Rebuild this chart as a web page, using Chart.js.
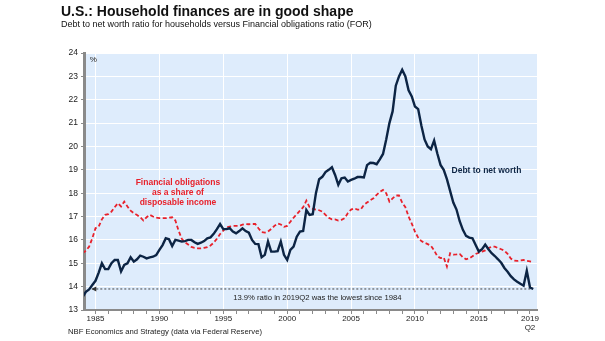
<!DOCTYPE html>
<html lang="en">
<head>
    <meta charset="UTF-8">
    <title>U.S.: Household finances are in good shape</title>
    <style>
        body {
            margin: 0;
            background: #ffffff;
            font-family: "Liberation Sans", Arial, sans-serif;
        }

        .wrap {
            position: relative;
            width: 605px;
            height: 341px;
        }

        .wrap div {
            position: absolute;
            line-height: 1;
            white-space: nowrap;
            color: #111;
        }

        .title {
            left: 61px;
            top: 4px;
            font-size: 14px;
            font-weight: bold;
        }

        .subtitle {
            left: 61px;
            top: 20px;
            font-size: 9px;
        }

        .source {
            left: 68px;
            top: 328px;
            font-size: 7.7px;
            color: #222 !important;
        }
    </style>
    <script src="https://cdn.jsdelivr.net/npm/chart.js"></script>
</head>
<body>
    <div class="wrap">
        <canvas id="chart" width="605" height="341"></canvas>
        <div class="title">U.S.: Household finances are in good shape</div>
        <div class="subtitle">Debt to net worth ratio for households versus Financial obligations ratio (FOR)</div>
        <div class="source">NBF Economics and Strategy (data via Federal Reserve)</div>
    </div>
    <script>
        // Quarterly series, first quarter is 1984Q1, last is 2019Q2
        const firstYear = 1984;

        const debtToNetWorth = [
            13.57, 13.78, 13.88, 14.07, 14.25, 14.6, 15.0, 14.75,
            14.75, 15.0, 15.14, 15.14, 14.65, 14.93, 15.0, 15.26,
            15.07, 15.17, 15.33, 15.28, 15.21, 15.25, 15.28, 15.35,
            15.57, 15.78, 16.07, 16.03, 15.74, 16.0, 15.97, 15.93,
            15.95, 16.0, 16.0, 15.9, 15.83, 15.88, 15.95, 16.07,
            16.11, 16.26, 16.46, 16.68, 16.46, 16.46, 16.5, 16.36,
            16.28, 16.38, 16.5, 16.38, 16.31, 16.0, 15.83, 15.82,
            15.26, 15.36, 15.93, 15.5, 15.5, 15.52, 15.93, 15.36,
            15.14, 15.57, 15.71, 16.14, 16.36, 16.38, 17.28, 17.07,
            17.1, 18.0, 18.6, 18.7, 18.9, 19.0, 19.11, 18.78,
            18.36, 18.64, 18.67, 18.5, 18.57, 18.62, 18.69, 18.69,
            18.67, 19.2, 19.3, 19.29, 19.24, 19.45, 19.68, 20.3,
            21.0, 21.5, 22.6, 23.0, 23.28, 23.0, 22.4, 22.14,
            21.71, 21.6, 20.9, 20.3, 20.0, 19.88, 20.25, 19.7,
            19.21, 19.0, 18.6, 18.1, 17.6, 17.3, 16.8, 16.43,
            16.17, 16.1, 16.07, 15.78, 15.5, 15.6, 15.8, 15.6,
            15.43, 15.31, 15.17, 15.02, 14.8, 14.64, 14.45, 14.31,
            14.21, 14.12, 14.04, 14.68, 13.97, 13.9
        ];

        const obligationsRatio = [
            15.43, 15.54, 15.71, 16.07, 16.5, 16.57, 16.88, 17.07,
            17.1, 17.21, 17.4, 17.57, 17.43, 17.64, 17.43, 17.25,
            17.14, 17.07, 16.97, 16.83, 16.97, 17.07, 17.0, 16.95,
            16.93, 16.93, 16.93, 16.95, 16.97, 16.83, 16.4, 16.05,
            15.9, 15.8, 15.7, 15.66, 15.64, 15.64, 15.66, 15.69,
            15.76, 15.88, 16.05, 16.25, 16.4, 16.54, 16.57, 16.6,
            16.6, 16.6, 16.65, 16.68, 16.67, 16.68, 16.68, 16.5,
            16.33, 16.31, 16.36, 16.47, 16.6, 16.7, 16.66, 16.56,
            16.6, 16.78, 16.95, 17.1, 17.25, 17.4, 17.68, 17.4,
            17.33, 17.3, 17.27, 17.21, 17.07, 16.95, 16.88, 16.88,
            16.83, 16.86, 16.93, 17.15, 17.3, 17.35, 17.3, 17.3,
            17.5, 17.6, 17.7, 17.78, 17.93, 18.05, 18.14, 18.0,
            17.64, 17.78, 17.9, 17.9, 17.6, 17.4, 17.0, 16.7,
            16.35, 16.1, 15.95, 15.88, 15.82, 15.75, 15.55, 15.3,
            15.22, 15.25, 14.86, 15.43, 15.37, 15.38, 15.4, 15.26,
            15.17, 15.21, 15.3, 15.4, 15.45, 15.5, 15.55, 15.65,
            15.71, 15.71, 15.65, 15.6, 15.54, 15.4, 15.2, 15.12,
            15.1, 15.12, 15.14, 15.1, 15.08, 15.06
        ];

        // Axis ticks
        const yTicks = [13, 14, 15, 16, 17, 18, 19, 20, 21, 22, 23, 24];
        const xTickYears = [1985, 1986, 1987, 1988, 1989, 1990, 1991, 1992, 1993, 1994,
            1995, 1996, 1997, 1998, 1999, 2000, 2001, 2002, 2003, 2004, 2005, 2006,
            2007, 2008, 2009, 2010, 2011, 2012, 2013, 2014, 2015, 2016, 2017, 2018, 2019];
        const xLabelYears = [1985, 1990, 1995, 2000, 2005, 2010, 2015];
        const lastLabel = ['2019', 'Q2'];

        // Lowest-since-1984 marker
        const lowestValue = debtToNetWorth[debtToNetWorth.length - 1];
        const lowestFrom = 1984.75;

        const navy = '#0c2444';
        const red = '#e8212b';
        const plotBg = '#deecfc';
        const axisGray = '#8a8a8a';

        const toPoints = arr => arr.map((v, i) => ({ x: firstYear + i / 4, y: v }));
        const lastX = firstYear + (debtToNetWorth.length - 1) / 4;

        // plot background, notes and arrow
        const notesPlugin = {
            id: 'notes',
            beforeDraw(chart) {
                const { ctx, chartArea: a } = chart;
                ctx.save();
                ctx.fillStyle = plotBg;
                ctx.fillRect(a.left, a.top, a.width, a.height);
                ctx.restore();
            },
            afterDatasetsDraw(chart) {
                const { ctx, scales: { x, y } } = chart;
                ctx.save();
                ctx.textBaseline = 'middle';

                ctx.fillStyle = '#222';
                ctx.font = '8px "Liberation Sans", Arial, sans-serif';
                ctx.textAlign = 'left';
                ctx.fillText('%', x.getPixelForValue(1984.55), y.getPixelForValue(23.7));

                ctx.fillStyle = red;
                ctx.font = 'bold 8.5px "Liberation Sans", Arial, sans-serif';
                ctx.textAlign = 'center';
                const fx = x.getPixelForValue(1991.45);
                const fy = y.getPixelForValue(18.45);
                ['Financial obligations', 'as a share of', 'disposable income'].forEach((t, i) => {
                    ctx.fillText(t, fx, fy + i * 10);
                });

                ctx.fillStyle = navy;
                ctx.textAlign = 'left';
                ctx.fillText('Debt to net worth', x.getPixelForValue(2012.86), y.getPixelForValue(18.95));

                ctx.fillStyle = '#222';
                ctx.font = '7.7px "Liberation Sans", Arial, sans-serif';
                ctx.fillText(lowestValue.toFixed(1) + '% ratio in 2019Q2 was the lowest since 1984',
                    x.getPixelForValue(1995.77), y.getPixelForValue(13.54));

                // arrow head on the dotted line
                const ax = x.getPixelForValue(lowestFrom);
                const ay = y.getPixelForValue(lowestValue);
                ctx.fillStyle = '#333';
                ctx.beginPath();
                ctx.moveTo(ax - 1, ay);
                ctx.lineTo(ax + 4, ay - 2.5);
                ctx.lineTo(ax + 4, ay + 2.5);
                ctx.closePath();
                ctx.fill();
                ctx.restore();
            }
        };

        Chart.defaults.font.family = '"Liberation Sans", Arial, sans-serif';
        Chart.defaults.color = '#222';

        const ctx = document.getElementById('chart').getContext('2d');
        const chart = new Chart(ctx, {
            type: 'line',
            data: {
                datasets: [
                    {
                        label: 'Debt to net worth',
                        data: toPoints(debtToNetWorth),
                        borderColor: navy,
                        borderWidth: 2.4,
                        pointRadius: 0,
                        tension: 0
                    },
                    {
                        label: 'Financial obligations ratio',
                        data: toPoints(obligationsRatio),
                        borderColor: red,
                        borderWidth: 1.8,
                        borderDash: [4, 2.5],
                        pointRadius: 0,
                        tension: 0
                    },
                    {
                        label: 'Lowest since 1984',
                        data: [{ x: lowestFrom, y: lowestValue }, { x: lastX, y: lowestValue }],
                        borderColor: '#444',
                        borderWidth: 1,
                        borderDash: [2, 2],
                        pointRadius: 0
                    }
                ]
            },
            options: {
                responsive: false,
                animation: false,
                devicePixelRatio: 1,
                layout: { padding: { top: 53, right: 68, left: 0, bottom: 0 } },
                plugins: {
                    legend: { display: false },
                    tooltip: { enabled: false }
                },
                scales: {
                    x: {
                        type: 'linear',
                        min: 1984.1,
                        max: 2019.55,
                        afterBuildTicks: scale => {
                            scale.ticks = xTickYears.map(v => ({ value: v }));
                        },
                        afterFit: scale => { scale.height = 31; },
                        ticks: {
                            autoSkip: false,
                            maxRotation: 0,
                            padding: 0,
                            font: { size: 8, lineHeight: 1.15 },
                            callback: v => {
                                if (v === 2019) return lastLabel;
                                return xLabelYears.includes(v) ? String(v) : '';
                            }
                        },
                        grid: {
                            color: c => (c.tick && xLabelYears.includes(c.tick.value)) ? '#ffffff' : 'rgba(0,0,0,0)',
                            tickColor: axisGray,
                            tickLength: 4,
                            lineWidth: 1
                        },
                        border: { color: axisGray, width: 2 }
                    },
                    y: {
                        min: 13,
                        max: 24,
                        afterBuildTicks: scale => {
                            scale.ticks = yTicks.map(v => ({ value: v }));
                        },
                        afterFit: scale => { scale.width = 84; },
                        ticks: {
                            padding: 3,
                            font: { size: 8.5 }
                        },
                        grid: {
                            color: '#ffffff',
                            tickColor: axisGray,
                            tickLength: 3,
                            lineWidth: 1
                        },
                        border: { color: axisGray, width: 3 }
                    }
                }
            },
            plugins: [notesPlugin]
        });
    </script>
</body>
</html>
